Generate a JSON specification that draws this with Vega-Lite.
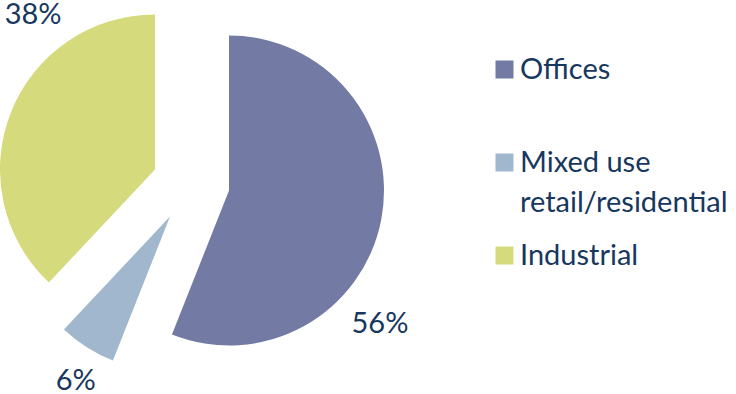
{
  "$schema": "https://vega.github.io/schema/vega-lite/v6.json",
  "width": 382,
  "height": 367,
  "autosize": "none",
  "padding": {"left": 0, "top": 0, "right": 354, "bottom": 27},
  "config": {"view": {"stroke": null}, "font": "Lato"},
  "data": {
    "values": [
      {"category": "Offices", "share": 56, "order": 1},
      {"category": "Mixed use retail/residential", "share": 6, "order": 2},
      {"category": "Industrial", "share": 38, "order": 3}
    ]
  },
  "transform": [
    {"stack": "share", "groupby": [], "sort": [{"field": "order", "order": "ascending"}], "as": ["v0", "v1"]},
    {"calculate": "(datum.v0 + datum.v1) / 2", "as": "mid"},
    {"calculate": "datum.share + '%'", "as": "label"}
  ],
  "encoding": {
    "color": {
      "field": "category",
      "type": "nominal",
      "scale": {
        "domain": ["Offices", "Mixed use retail/residential", "Industrial"],
        "range": ["#737AA3", "#A1B7CE", "#D5DA7C"]
      },
      "legend": {
        "orient": "none",
        "legendX": 490,
        "legendY": 55,
        "title": null,
        "symbolType": "square",
        "symbolSize": 324,
        "symbolStrokeWidth": 0,
        "symbolOpacity": 1,
        "labelFont": "Lato",
        "labelFontSize": 29,
        "labelColor": "#17375E",
        "labelLimit": 0,
        "labelOffset": 1,
        "rowPadding": 23,
        "gridAlign": "all",
        "labelExpr": "datum.label == 'Mixed use retail/residential' ? ['Mixed use', 'retail/residential'] : datum.label",
        "encode": {"labels": {"update": {"lineHeight": {"value": 40}}}}
      }
    }
  },
  "layer": [
    {
      "transform": [{"filter": "datum.category === 'Offices'"}],
      "mark": {"type": "arc", "outerRadius": 155, "xOffset": 38, "yOffset": 7},
      "encoding": {
        "theta": {"field": "v0", "type": "quantitative", "scale": {"domain": [0, 100]}},
        "theta2": {"field": "v1"}
      }
    },
    {
      "transform": [{"filter": "datum.category === 'Mixed use retail/residential'"}],
      "mark": {"type": "arc", "outerRadius": 155, "xOffset": -21, "yOffset": 33},
      "encoding": {
        "theta": {"field": "v0", "type": "quantitative", "scale": {"domain": [0, 100]}},
        "theta2": {"field": "v1"}
      }
    },
    {
      "transform": [{"filter": "datum.category === 'Industrial'"}],
      "mark": {"type": "arc", "outerRadius": 155, "xOffset": -36, "yOffset": -14},
      "encoding": {
        "theta": {"field": "v0", "type": "quantitative", "scale": {"domain": [0, 100]}},
        "theta2": {"field": "v1"}
      }
    },
    {
      "transform": [{"filter": "datum.category === 'Offices'"}],
      "mark": {"type": "text", "radius": 230, "dx": -37, "dy": 97, "fontSize": 29, "font": "Lato", "align": "center", "baseline": "middle"},
      "encoding": {
        "theta": {"field": "mid", "type": "quantitative", "scale": {"domain": [0, 100]}},
        "text": {"field": "label"},
        "color": {"value": "#17375E"}
      }
    },
    {
      "transform": [{"filter": "datum.category === 'Mixed use retail/residential'"}],
      "mark": {"type": "text", "radius": 230, "dx": 8, "dy": 3, "fontSize": 29, "font": "Lato", "align": "center", "baseline": "middle"},
      "encoding": {
        "theta": {"field": "mid", "type": "quantitative", "scale": {"domain": [0, 100]}},
        "text": {"field": "label"},
        "color": {"value": "#17375E"}
      }
    },
    {
      "transform": [{"filter": "datum.category === 'Industrial'"}],
      "mark": {"type": "text", "radius": 230, "dx": 56, "dy": -84, "fontSize": 29, "font": "Lato", "align": "center", "baseline": "middle"},
      "encoding": {
        "theta": {"field": "mid", "type": "quantitative", "scale": {"domain": [0, 100]}},
        "text": {"field": "label"},
        "color": {"value": "#17375E"}
      }
    }
  ]
}
